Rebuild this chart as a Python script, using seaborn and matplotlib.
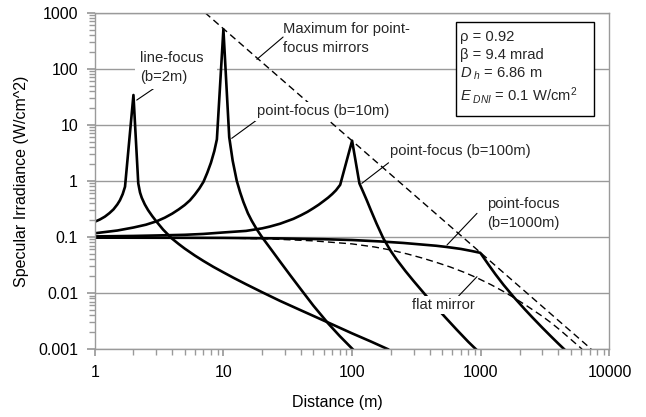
import matplotlib
matplotlib.use('Agg')
import matplotlib.pyplot as plt
import seaborn as sns
from matplotlib.patches import Rectangle
from matplotlib.ticker import LogLocator, NullFormatter, FixedLocator, FixedFormatter

sns.set_theme(style='white')
plt.rcParams['font.family'] = ['Liberation Sans', 'DejaVu Sans']
plt.rcParams['mathtext.fontset'] = 'custom'
plt.rcParams['mathtext.rm'] = 'Liberation Sans'
plt.rcParams['mathtext.it'] = 'Liberation Sans:italic'

# ---------------- data ----------------
lf2_x = [1.0, 1.1, 1.2, 1.3, 1.4, 1.5, 1.57, 1.65, 1.72, 2.0, 2.18, 2.25, 2.32, 2.45, 2.6, 2.8, 3.03,
         3.4, 3.97, 4.5, 5.0, 6.0, 7.0, 8.36, 10, 12, 15, 20, 27.6, 40, 65.5, 100, 140, 192]
lf2_y = [0.186, 0.205, 0.23, 0.265, 0.31, 0.38, 0.45, 0.58, 0.785, 34, 0.9, 0.62, 0.5, 0.38, 0.3, 0.235, 0.186,
         0.135, 0.094, 0.0745, 0.062, 0.0465, 0.0372, 0.0292, 0.0233, 0.0186, 0.0143, 0.0103, 0.0072, 0.0049,
         0.00295, 0.0019, 0.00136, 0.00098]

p10_x = [1, 1.5, 2, 2.5, 3.03, 3.5, 4, 4.5, 5, 5.5, 6, 6.5, 7.0, 7.5, 8.0, 8.5, 8.9, 10,
         11.1, 11.8, 12.7, 13.5, 14.3, 15.5, 16.6, 18.2, 19.9, 23, 27.6, 33, 40, 50, 65.5, 80, 102.5]
p10_y = [0.116, 0.13, 0.147, 0.165, 0.19, 0.22, 0.26, 0.31, 0.37, 0.45, 0.57, 0.73, 0.96, 1.4, 2.1, 3.4, 5.5, 505,
         6.0, 2.3, 1.0, 0.62, 0.42, 0.264, 0.194, 0.1355, 0.1, 0.0638, 0.0361, 0.0208, 0.0116, 0.00594,
         0.00282, 0.00171, 0.00096]

p100_x = [1, 2, 3, 5, 7, 10, 15, 20, 23, 27.6, 35, 40, 45, 50, 55, 60, 65, 70, 75, 80.8, 100,
          114, 122, 130, 140, 155, 175, 200, 223, 260, 300, 370, 450, 530, 650, 800, 934]
p100_y = [0.102, 0.104, 0.106, 0.109, 0.113, 0.12, 0.128, 0.142, 0.153, 0.172, 0.21, 0.243, 0.28, 0.325, 0.375,
          0.435, 0.5, 0.58, 0.68, 0.85, 5.2,
          0.9, 0.632, 0.451, 0.298, 0.172, 0.0937, 0.0557, 0.0389, 0.0245, 0.0164, 0.0093, 0.00557, 0.00367,
          0.00221, 0.00134, 0.00095]

p1000_x = [1, 10, 27.6, 60, 100, 165, 250, 350, 450, 546, 700, 850, 991,
           1150, 1300, 1500, 1800, 2200, 2500, 3000, 3500, 4000, 4490]
p1000_y = [0.097, 0.096, 0.094, 0.091, 0.088, 0.083, 0.078, 0.073, 0.0695, 0.066, 0.061, 0.056, 0.052,
           0.0318, 0.0215, 0.014, 0.00849, 0.00509, 0.00372, 0.00241, 0.00169, 0.00125, 0.00097]

flat_x = [1, 3, 10, 23, 50, 100, 150, 198, 270, 350, 450, 580, 750, 934, 1200, 1500, 1800,
          2300, 3000, 3500, 4150, 5000, 6120]
flat_y = [0.097, 0.0967, 0.0955, 0.092, 0.085, 0.075, 0.066, 0.0585, 0.0495, 0.042, 0.0352, 0.029, 0.02314,
          0.01859, 0.01405, 0.01063, 0.0083, 0.0058, 0.00385, 0.00296, 0.00216, 0.00149, 0.000995]

max_x = [7.2, 7200]
max_y = [1000, 0.001]

x_ticks = [1, 10, 100, 1000, 10000]
x_ticklabels = ['1', '10', '100', '1000', '10000']
y_ticks = [0.001, 0.01, 0.1, 1, 10, 100, 1000]
y_ticklabels = ['0.001', '0.01', '0.1', '1', '10', '100', '1000']

# ---------------- figure ----------------
W, H = 646, 417
fig = plt.figure(figsize=(W / 100, H / 100), dpi=100)
ax = fig.add_axes([94.7 / W, 1 - 349 / H, (609.5 - 94.7) / W, (349 - 12.7) / H])

def fx(px):
    return px / W

def fy(py):
    return 1 - py / H

solid = dict(color='black', lw=1.9, estimator=None, sort=False, ax=ax)
dash = dict(color='black', lw=1.0, estimator=None, sort=False, ax=ax,
            linestyle=(0, (5, 3)))

sns.lineplot(x=lf2_x, y=lf2_y, **solid)
sns.lineplot(x=p10_x, y=p10_y, **solid)
sns.lineplot(x=p100_x, y=p100_y, **solid)
sns.lineplot(x=p1000_x, y=p1000_y, **solid)
sns.lineplot(x=flat_x, y=flat_y, **dash)
sns.lineplot(x=max_x, y=max_y, **dash)

ax.set_xscale('log')
ax.set_yscale('log')
ax.set_xlim(1, 10000)
ax.set_ylim(0.001, 1000)

ax.xaxis.set_major_locator(FixedLocator(x_ticks))
ax.xaxis.set_major_formatter(FixedFormatter(x_ticklabels))
ax.yaxis.set_major_locator(FixedLocator(y_ticks))
ax.yaxis.set_major_formatter(FixedFormatter(y_ticklabels))
ax.xaxis.set_minor_locator(LogLocator(base=10, subs=range(2, 10), numticks=20))
ax.yaxis.set_minor_locator(LogLocator(base=10, subs=range(2, 10), numticks=20))
ax.xaxis.set_minor_formatter(NullFormatter())
ax.yaxis.set_minor_formatter(NullFormatter())

gray = '#9a9a9a'
ax.yaxis.grid(True, which='major', color=gray, lw=1.0)
ax.xaxis.grid(False)
ax.set_axisbelow(True)
for s in ax.spines.values():
    s.set_color(gray)
    s.set_linewidth(1.0)

ax.tick_params(which='both', bottom=True, left=True, direction='out', color=gray,
               labelsize=11.5, labelcolor='black')
ax.tick_params(axis='x', which='major', length=5, pad=6.5)
ax.tick_params(axis='x', which='minor', length=4)
ax.tick_params(axis='y', which='major', length=6, pad=6)
ax.tick_params(axis='y', which='minor', length=4)

ax.set_xlabel('Distance (m)', fontsize=11.5, color='black')
ax.set_ylabel('Specular Irradiance (W/cm^2)', fontsize=11.5, color='black')
ax.xaxis.set_label_coords((337.5 - 94.7) / (609.5 - 94.7), (349 - 403) / (349 - 12.7))
ax.yaxis.set_label_coords((21.7 - 94.7) / (609.5 - 94.7), 0.5)
ax.xaxis.label.set_va('center')
ax.yaxis.label.set_va('center')

# ---------------- leader lines (data coords) ----------------
def leader(x0, y0, x1, y1):
    ax.annotate('', xy=(x1, y1), xytext=(x0, y0),
                arrowprops=dict(arrowstyle='-', color='black', lw=0.8,
                                shrinkA=0, shrinkB=0), zorder=5)

leader(2.89, 44.7, 2.12, 27.6)
leader(29.1, 368, 18.2, 147)
leader(18.2, 12.2, 11.6, 5.73)
leader(192, 2.10, 119, 0.902)
leader(934, 0.263, 546, 0.0716)
leader(672, 0.0088, 934, 0.0195)

# ---------------- labels ----------------
fs = 10.6
fig.patches.append(Rectangle((fx(135), fy(89)), fx(217) - fx(135), fy(45) - fy(89),
                             transform=fig.transFigure, facecolor='white',
                             edgecolor='none', zorder=2.5))
fig.text(fx(140), fy(58), 'line-focus', fontsize=fs, va='center', ha='left')
fig.text(fx(140), fy(77.5), '(b=2m)', fontsize=fs, va='center', ha='left')

fig.text(fx(283), fy(29), 'Maximum for point-', fontsize=fs, va='center', ha='left')
fig.text(fx(283), fy(48), 'focus mirrors', fontsize=fs, va='center', ha='left')

wb = dict(facecolor='white', edgecolor='none', pad=1.5)
fig.text(fx(257), fy(111.5), 'point-focus (b=10m)', fontsize=fs, va='center', ha='left', bbox=wb)
fig.text(fx(390), fy(151.5), 'point-focus (b=100m)', fontsize=fs, va='center', ha='left', bbox=wb)
fig.text(fx(487), fy(203.5), 'point-focus', fontsize=fs, va='center', ha='left', bbox=wb)
fig.text(fx(487), fy(222.5), '(b=1000m)', fontsize=fs, va='center', ha='left', bbox=wb)
fig.text(fx(412), fy(305), 'flat mirror', fontsize=fs, va='center', ha='left', bbox=wb)

# parameter box
fig.patches.append(Rectangle((fx(456), fy(116)), fx(594) - fx(456), fy(22) - fy(116),
                             transform=fig.transFigure, facecolor='white',
                             edgecolor='black', lw=1.0, zorder=2.5))
fig.text(fx(459.5), fy(37), 'ρ = 0.92', fontsize=fs, va='center', ha='left')
fig.text(fx(459.5), fy(55.5), 'β = 9.4 mrad', fontsize=fs, va='center', ha='left')
fig.text(fx(459.5), fy(74), r'$D_{\ h}$ = 6.86 m', fontsize=fs, va='center', ha='left')
fig.text(fx(459.5), fy(95), r'$E_{\ DNI}$ = 0.1 W/cm$^{\mathrm{2}}$', fontsize=fs, va='center', ha='left')

fig.savefig('out.png', dpi=100)
